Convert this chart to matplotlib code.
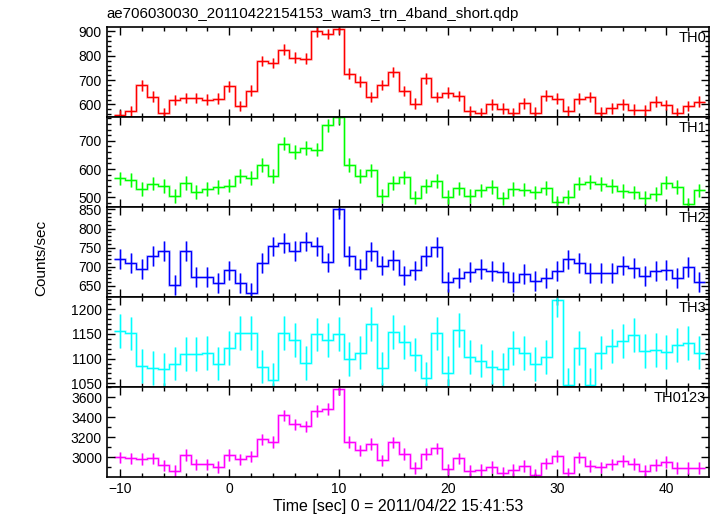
import numpy as np
import matplotlib
matplotlib.use("Agg")
import matplotlib.pyplot as plt
from matplotlib.ticker import MultipleLocator

plt.rcParams['font.family'] = ['Liberation Sans', 'DejaVu Sans']

# time bins (sec), 1 s wide
t = np.arange(-10, 44)

th0 = [557, 571, 678, 632, 564, 618, 626, 626, 620, 624,
       674, 594, 657, 778, 770, 825, 792, 788, 901, 890,
       910, 726, 694, 630, 680, 733, 655, 603, 708, 631,
       648, 634, 571, 564, 601, 583, 564, 605, 566, 636,
       623, 573, 623, 630, 566, 584, 601, 578, 575, 611,
       597, 564, 594, 611]
th1 = [567, 562, 529, 548, 539, 504, 551, 519, 529, 536,
       541, 576, 569, 614, 576, 690, 660, 675, 669, 755,
       784, 614, 576, 595, 505, 551, 570, 499, 540, 557,
       500, 531, 505, 524, 536, 496, 529, 527, 517, 533,
       482, 500, 548, 553, 546, 540, 522, 517, 499, 512,
       552, 537, 475, 524]
th2 = [720, 709, 693, 727, 741, 652, 742, 672, 674, 657,
       690, 657, 630, 709, 753, 763, 742, 766, 753, 711,
       852, 728, 693, 740, 703, 717, 677, 690, 727, 751,
       659, 670, 685, 693, 689, 686, 659, 680, 663, 670,
       689, 719, 709, 683, 683, 683, 703, 696, 676, 688,
       692, 670, 700, 659]
th3 = [1156, 1151, 1085, 1081, 1078, 1090, 1109, 1109, 1111, 1090,
       1122, 1152, 1152, 1084, 1057, 1152, 1138, 1091, 1149, 1138,
       1150, 1099, 1112, 1170, 1080, 1154, 1133, 1108, 1060, 1151,
       1071, 1158, 1103, 1096, 1083, 1078, 1122, 1111, 1089, 1103,
       1218, 1047, 1122, 1047, 1112, 1126, 1136, 1148, 1116, 1118,
       1113, 1127, 1131, 1112]
th0123 = [3000, 2990, 2983, 2990, 2920, 2866, 3026, 2930, 2930, 2906,
          3026, 2980, 3010, 3180, 3153, 3420, 3330, 3310, 3463, 3486,
          3680, 3156, 3070, 3133, 2970, 3150, 3033, 2896, 3033, 3090,
          2880, 2990, 2866, 2876, 2906, 2846, 2873, 2916, 2826, 2940,
          3013, 2840, 3000, 2913, 2900, 2930, 2963, 2933, 2866, 2926,
          2953, 2896, 2896, 2896]

# typical 1-sigma error
errs = [22, 24, 26, 34, 58]
names = ["TH0", "TH1", "TH2", "TH3", "TH0123"]
series = [th0, th1, th2, th3, th0123]
colors = ["#ff0000", "#00ff00", "#0000ff", "#00ffff", "#ff00ff"]
ylims = [(549, 919), (466, 785), (621, 857), (1043, 1225), (2806, 3706)]
majors = [100, 100, 50, 50, 200]
minors = [20, 20, 10, 10, 100]

fig, axes = plt.subplots(5, 1, sharex=True, figsize=(7.17, 5.16), dpi=100)
fig.subplots_adjust(left=0.149, right=0.989, top=0.948, bottom=0.076, hspace=0)

edges = np.append(t - 0.5, t[-1] + 0.5)
for ax, y, e, name, c, yl, mj, mn in zip(axes, series, errs, names, colors, ylims, majors, minors):
    # soft halo + thin line, like the qdp render
    ax.stairs(y, edges, baseline=None, color=c, lw=1.8, alpha=0.3)
    ax.stairs(y, edges, baseline=None, color=c, lw=0.9)
    ax.errorbar(t, y, yerr=e, fmt='none', ecolor=c, elinewidth=1.8, alpha=0.3)
    ax.errorbar(t, y, yerr=e, fmt='none', ecolor=c, elinewidth=0.9)
    ax.set_ylim(*yl)
    ax.yaxis.set_major_locator(MultipleLocator(mj))
    ax.yaxis.set_minor_locator(MultipleLocator(mn))
    ax.xaxis.set_major_locator(MultipleLocator(10))
    ax.xaxis.set_minor_locator(MultipleLocator(2))
    ax.tick_params(which='both', direction='in', top=True, right=True, labelsize=10)
    ax.tick_params(which='major', length=6, width=1)
    ax.tick_params(which='minor', length=3, width=1)
    for s in ax.spines.values():
        s.set_linewidth(1.2)
    ax.text(0.995, 0.955, name, transform=ax.transAxes, ha='right', va='top', fontsize=10.5)

axes[-1].set_xlim(-11.2, 43.9)
fig.text(0.555, 1 - 507 / 516, "Time [sec] 0 = 2011/04/22 15:41:53", ha='center', va='center', fontsize=11.5)
fig.text(0.058, 0.5, "Counts/sec", rotation=90, ha='center', va='center', fontsize=11)
axes[0].set_title("ae706030030_20110422154153_wam3_trn_4band_short.qdp", loc='left', fontsize=10.8, pad=6)

fig.savefig("out.png", dpi=100)
